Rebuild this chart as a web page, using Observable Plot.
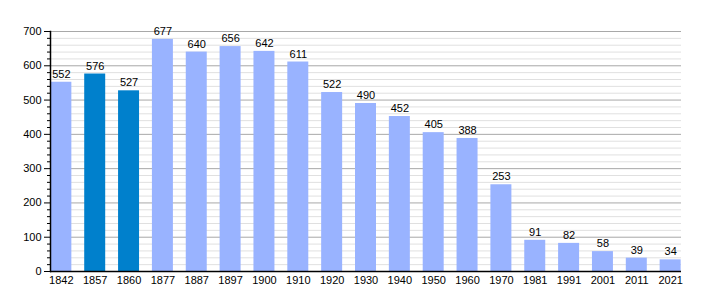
<!DOCTYPE html>
<html>
<head>
<meta charset="utf-8">
<script src="https://cdn.jsdelivr.net/npm/d3@7"></script>
<script src="https://cdn.jsdelivr.net/npm/@observablehq/plot@0.6"></script>
<style>
  html, body { margin: 0; padding: 0; background: #fff; }
  #chart svg { display: block; }
</style>
</head>
<body>
<div id="chart"></div>
<script>
const years = ["1842","1857","1860","1877","1887","1897","1900","1910","1920","1930","1940","1950","1960","1970","1981","1991","2001","2011","2021"];
const population = [552,576,527,677,640,656,642,611,522,490,452,405,388,253,91,82,58,39,34];
const highlighted = ["1857","1860"];
const majorTicks = [0,100,200,300,400,500,600,700];
const minorTicks = d3.range(0, 701, 20).filter(v => v % 100 !== 0);

const data = years.map((y, i) => ({year: y, value: population[i], hi: highlighted.includes(y)}));

const chart = Plot.plot({
  width: 710,
  height: 300,
  marginLeft: 50,
  marginRight: 29,
  marginTop: 31,
  marginBottom: 29,
  style: {fontFamily: "'Liberation Sans', Arial, sans-serif", fontSize: "11px", color: "#000", background: "#fff"},
  x: {domain: years, padding: 0.38, insetLeft: -12.5, insetRight: -12.5, round: false, label: null},
  y: {domain: [0, 700], label: null},
  marks: [
    Plot.ruleY(minorTicks, {stroke: "#e0e0e0", strokeWidth: 1}),
    Plot.ruleY(majorTicks, {stroke: "#a8a8a8", strokeWidth: 1}),
    Plot.barY(data, {x: "year", y: "value", fill: d => d.hi ? "#0080cc" : "#99b3ff"}),
    Plot.text(data, {x: "year", y: "value", text: d => String(d.value), dy: -8, fontSize: 11, fill: "#000"}),
    Plot.axisY(majorTicks, {tickSize: 6, tickPadding: 3, fontSize: 11, stroke: "#000", fill: "#000", label: null}),
    Plot.axisY(minorTicks, {tickSize: 3, tickFormat: () => "", stroke: "#000", label: null}),
    Plot.axisX({tickSize: 0, tickPadding: 5, fontSize: 11, fill: "#000", label: null}),
    Plot.ruleY([0], {stroke: "#000", strokeWidth: 1.5}),
    Plot.frame({anchor: "left", stroke: "#000", strokeWidth: 1.5})
  ]
});
document.getElementById("chart").appendChild(chart);
</script>
</body>
</html>
